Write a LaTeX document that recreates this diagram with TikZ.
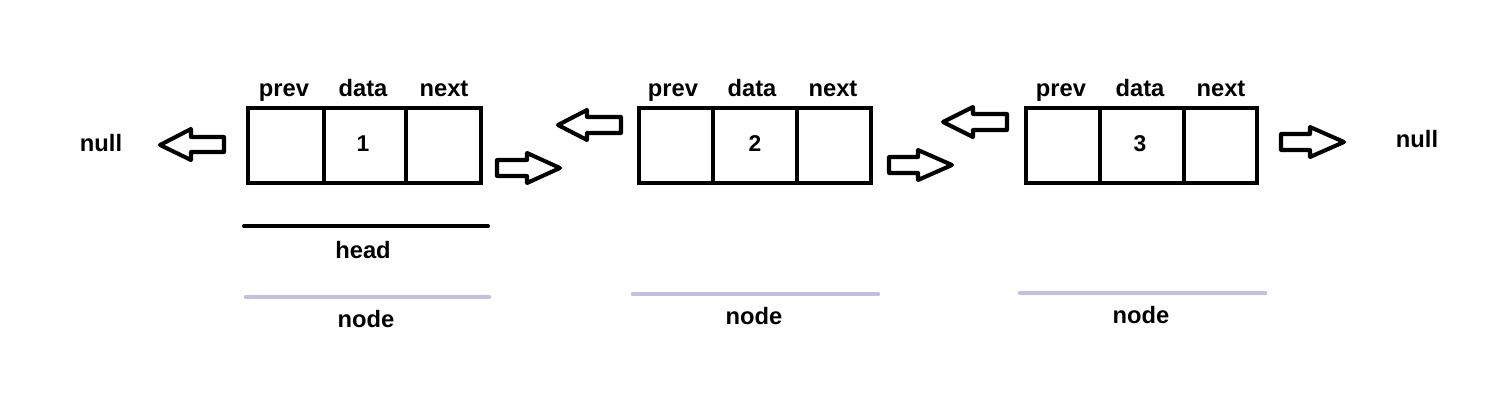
\documentclass[tikz,border=0pt]{standalone}
\usepackage{fontspec}
\setmainfont{Liberation Sans}
\begin{document}
\begin{tikzpicture}[x=0.02cm,y=-0.02cm,
  lbl/.style={font=\bfseries\fontsize{13.5}{15}\selectfont, inner sep=0pt, anchor=base},
  num/.style={font=\bfseries\fontsize{13}{14}\selectfont, inner sep=0pt, anchor=base},
  boxline/.style={line width=2.8pt},
  blk/.style={line width=2.3pt, line join=round},
  headline/.style={line width=2.3pt, line cap=round},
  nodeline/.style={line width=2.6pt, line cap=round, draw=lav}]
\definecolor{lav}{HTML}{C5BEE2}
\useasboundingbox (0,0) rectangle (1508,412);
% boxes
\foreach \n/\l/\a/\b/\r in {1/248/324/406/481, 2/639/713/797/871, 3/1026/1100/1184/1257}{
  \draw[boxline] (\l,108) rectangle (\r,183);
  \draw[boxline] (\a,108) -- (\a,183);
  \draw[boxline] (\b,108) -- (\b,183);
}
% labels
\node[lbl] (p1) at (284,97) {prev};
\node[lbl] (d1) at (363,97) {data};
\node[lbl] (n1) at (444,97) {next};
\node[lbl] (p2) at (673,97) {prev};
\node[lbl] (d2) at (752,97) {data};
\node[lbl] (n2) at (833,97) {next};
\node[lbl] (p3) at (1061,97) {prev};
\node[lbl] (d3) at (1140,97) {data};
\node[lbl] (n3) at (1221,97) {next};
\node[num] (v1) at (363,152) {1};
\node[num] (v2) at (755,152) {2};
\node[num] (v3) at (1140,152) {3};
\node[lbl] (nullL) at (101,152) {null};
\node[lbl] (nullR) at (1417,148) {null};
% block arrows: left-pointing
\draw[blk] (224,137) -- (191,137) -- (191,129) -- (160,145) -- (191,160) -- (191,152) -- (224,152) -- cycle;
\draw[blk] (621,117) -- (587,117) -- (587,110) -- (558,125) -- (587,140) -- (587,133) -- (621,133) -- cycle;
\draw[blk] (1007,114) -- (973,114) -- (973,107) -- (943,122) -- (973,137) -- (973,130) -- (1007,130) -- cycle;
% block arrows: right-pointing
\draw[blk] (497,160) -- (527,160) -- (527,153) -- (560,168) -- (527,183) -- (527,176) -- (497,176) -- cycle;
\draw[blk] (889,157) -- (918,157) -- (918,150) -- (952,165) -- (918,180) -- (918,173) -- (889,173) -- cycle;
\draw[blk] (1281,134) -- (1310,134) -- (1310,127) -- (1344,142) -- (1310,157) -- (1310,150) -- (1281,150) -- cycle;
% head
\draw[headline] (244,226) -- (488,226);
\node[lbl] (head) at (363,258) {head};
% node lines
\draw[nodeline] (246,297) -- (489,297);
\draw[nodeline] (633,294) -- (878,294);
\draw[nodeline] (1020,293) -- (1265,293);
\node[lbl] (nd1) at (366,327) {node};
\node[lbl] (nd2) at (754,324) {node};
\node[lbl] (nd3) at (1141,323) {node};
\end{tikzpicture}
\end{document}
